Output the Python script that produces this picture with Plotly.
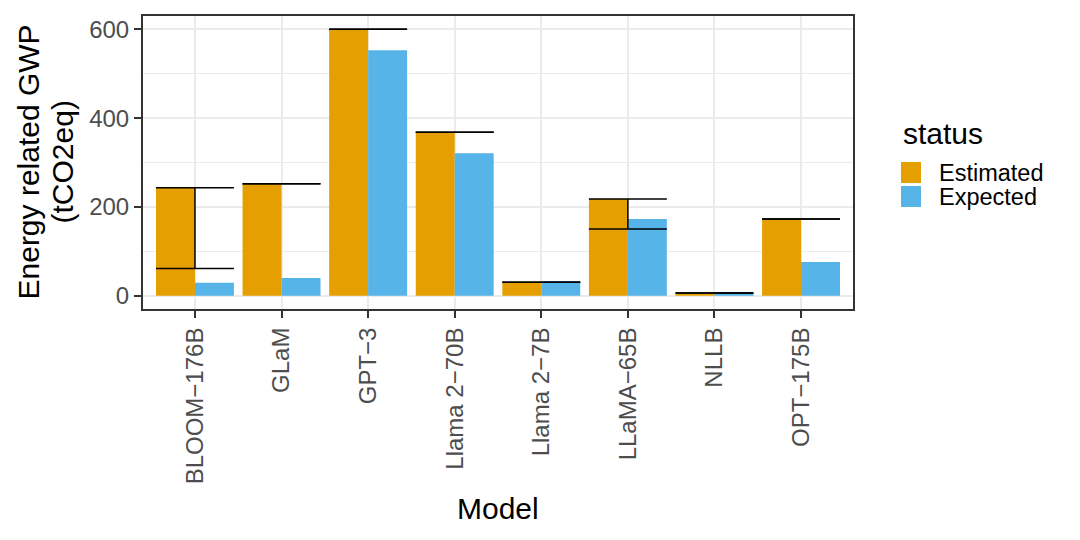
import plotly.graph_objects as go

# ---------------- data ----------------
models = ["BLOOM−176B", "GLaM", "GPT−3", "Llama 2−70B", "Llama 2−7B",
          "LLaMA−65B", "NLLB", "OPT−175B"]
estimated = [243, 252, 600, 368, 30, 218, 5, 173]
expected = [29, 40, 553, 321, 33, 173, 8, 76]
err_low = [61, 252, 600, 368, 30, 150, 6, 173]
err_high = [243, 252, 600, 368, 30, 218, 6, 173]
y_ticks = [0, 200, 400, 600]
status_names = ["Estimated", "Expected"]
colors = ["#E69F00", "#56B4E9"]

# ---------------- layout constants (pixels) ----------------
W, H = 1080, 540
L, R, T, B = 143, 853, 16, 309
FONT = "Liberation Sans, Arial, Helvetica, sans-serif"

x_idx = list(range(len(models)))

fig = go.Figure()
for name, vals, col in zip(status_names, [estimated, expected], colors):
    fig.add_trace(go.Bar(x=x_idx, y=vals, name=name, marker_color=col,
                         marker_line_width=0, showlegend=False))

# error bars spanning the dodged group
half = 0.45
ex, ey = [], []
for i, lo, hi in zip(x_idx, err_low, err_high):
    ex += [i - half, i + half, None, i - half, i + half, None, i, i, None]
    ey += [hi, hi, None, lo, lo, None, lo, hi, None]
fig.add_trace(go.Scatter(x=ex, y=ey, mode="lines",
                         line=dict(color="black", width=1.5),
                         showlegend=False, hoverinfo="skip"))

def px_x(p):
    return (p - L) / (R - L)

def px_y(p):
    return (B - p) / (B - T)

shapes = []
annotations = []
# manual legend
annotations.append(dict(text="status", xref="paper", yref="paper",
                        x=px_x(901), y=px_y(133), xanchor="left", yanchor="middle",
                        showarrow=False, font=dict(family=FONT, size=30, color="black")))
key_tops = [162, 186]
for name, col, kt in zip(status_names, colors, key_tops):
    shapes.append(dict(type="rect", xref="paper", yref="paper",
                       x0=px_x(901), x1=px_x(921), y0=px_y(kt + 21), y1=px_y(kt),
                       fillcolor=col, line=dict(width=0)))
    annotations.append(dict(text=name, xref="paper", yref="paper",
                            x=px_x(937), y=px_y(kt + 11), xanchor="left", yanchor="middle",
                            showarrow=False, font=dict(family=FONT, size=23.5, color="black")))

# axis titles
annotations.append(dict(text="Energy related GWP", xref="paper", yref="paper",
                        x=0, y=0.5, xshift=28 - L, xanchor="center", yanchor="middle",
                        textangle=-90, showarrow=False,
                        font=dict(family=FONT, size=30, color="black")))
annotations.append(dict(text="(tCO2eq)", xref="paper", yref="paper",
                        x=0, y=0.5, xshift=62 - L, xanchor="center", yanchor="middle",
                        textangle=-90, showarrow=False,
                        font=dict(family=FONT, size=30, color="black")))
annotations.append(dict(text="Model", xref="paper", yref="paper",
                        x=0.5, y=0, yshift=-(508 - B), xanchor="center", yanchor="middle",
                        showarrow=False, font=dict(family=FONT, size=30, color="black")))

fig.update_layout(
    width=W, height=H, autosize=False,
    margin=dict(l=L, r=W - R, t=T, b=H - B, pad=0),
    paper_bgcolor="white", plot_bgcolor="white",
    barmode="group", bargap=0.1, bargroupgap=0,
    font=dict(family=FONT, color="#4D4D4D"),
    shapes=shapes, annotations=annotations,
    showlegend=False,
)
fig.update_xaxes(
    range=[-0.6, len(models) - 0.4],
    tickmode="array", tickvals=x_idx, ticktext=models, tickangle=-90,
    tickfont=dict(family=FONT, size=24, color="#4D4D4D"),
    showgrid=True, gridcolor="#EBEBEB", gridwidth=2,
    ticks="outside", ticklen=7, tickwidth=2, tickcolor="#333333",
    showline=True, mirror=True, linecolor="#333333", linewidth=2,
    zeroline=False,
)
fig.update_yaxes(
    range=[-30, 630],
    tickmode="array", tickvals=y_ticks,
    tickfont=dict(family=FONT, size=24, color="#4D4D4D"),
    showgrid=True, gridcolor="#EBEBEB", gridwidth=2,
    minor=dict(dtick=100, tick0=0, showgrid=True, gridcolor="#EBEBEB", gridwidth=1),
    ticks="outside", ticklen=7, tickwidth=2, tickcolor="#333333",
    showline=True, mirror=True, linecolor="#333333", linewidth=2,
    zeroline=False,
)

fig.write_html("out.html", config={"displayModeBar": False},
               post_script="document.body.style.margin='0';")
